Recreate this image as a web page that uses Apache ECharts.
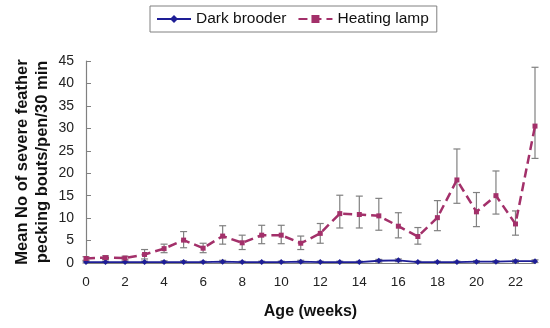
<!DOCTYPE html>
<html><head><meta charset="utf-8">
<script src="https://cdn.jsdelivr.net/npm/echarts@6/dist/echarts.min.js"></script>
<style>html,body{margin:0;padding:0;background:#fff}#c{width:550px;height:328px}</style>
</head><body><div id="c"></div>
<script>
const weeks = [0,1,2,3,4,5,6,7,8,9,10,11,12,13,14,15,16,17,18,19,20,21,22,23];
const heatingLamp = [1.0,1.2,1.1,1.9,3.2,5.1,3.3,6.0,4.5,6.2,6.2,4.4,6.6,11.0,10.8,10.5,8.2,5.9,10.1,18.5,11.4,15.0,8.7,30.5];
const heatingLampHigh = [1.4,1.6,1.5,3.0,4.2,7.0,4.4,8.3,6.2,8.4,8.4,6.0,8.8,15.1,14.9,14.4,11.2,7.9,13.9,25.4,15.7,20.5,11.6,43.6];
const heatingLampLow = [0.6,0.8,0.7,0.9,2.3,3.4,2.3,4.2,3.0,4.3,4.3,3.0,4.4,7.8,7.8,7.3,5.6,4.2,7.2,13.3,8.1,10.9,6.2,23.3];
const darkBrooder = [0.2,0.2,0.2,0.2,0.2,0.2,0.2,0.3,0.2,0.2,0.2,0.3,0.2,0.2,0.2,0.5,0.6,0.2,0.2,0.2,0.3,0.3,0.4,0.4];
const darkBrooderHigh = [0.4,0.4,0.4,0.4,0.5,0.5,0.4,0.6,0.4,0.4,0.4,0.6,0.4,0.4,0.4,0.8,0.9,0.4,0.4,0.4,0.5,0.5,0.7,0.7];
const darkBrooderLow = [0.0,0.0,0.0,0.0,0.0,0.0,0.0,0.0,0.0,0.0,0.0,0.0,0.0,0.0,0.0,0.2,0.3,0.0,0.0,0.0,0.1,0.1,0.1,0.1];
const xTickLabels = ['0','2','4','6','8','10','12','14','16','18','20','22'];
const seriesNames = ['Dark brooder','Heating lamp'];

const blue = '#1E1E96';
const red = '#A3306A';
const gray = '#808080';

function errData(hi, lo){ return weeks.map((w,i)=>[w, lo[i], hi[i]]); }
function errRender(params, api){
  const x = api.value(0);
  const p1 = api.coord([x, api.value(2)]);
  const p2 = api.coord([x, api.value(1)]);
  const w = 3.5;
  const st = {stroke: gray, lineWidth: 1.2};
  return {type:'group', children:[
    {type:'line', shape:{x1:p1[0],y1:p1[1],x2:p2[0],y2:p2[1]}, style:st},
    {type:'line', shape:{x1:p1[0]-w,y1:p1[1],x2:p1[0]+w,y2:p1[1]}, style:st},
    {type:'line', shape:{x1:p2[0]-w,y1:p2[1],x2:p2[0]+w,y2:p2[1]}, style:st}
  ]};
}

const chart = echarts.init(document.getElementById('c'), null, {renderer:'canvas'});
chart.setOption({
  animation:false,
  textStyle:{fontFamily:'Liberation Sans, Arial, sans-serif'},
  grid:{left:86, right:15, top:61, bottom:65, containLabel:false, outerBoundsMode:'none'},
  legend:{
    data:seriesNames, left:150, top:6,
    borderColor:gray, borderWidth:1, padding:[5,8,5,6],
    itemWidth:34, itemHeight:10, itemGap:11,
    textStyle:{fontSize:15.5, color:'#111'}
  },
  xAxis:{
    type:'value', min:0, max:23, interval:1,
    name:'Age (weeks)', nameLocation:'middle', nameGap:41, nameMoveOverlap:false,
    nameTextStyle:{fontSize:16, fontWeight:'bold', color:'#111'},
    axisLine:{show:true, lineStyle:{color:gray}},
    axisTick:{show:false}, splitLine:{show:false},
    axisLabel:{fontSize:13.5, color:'#222', margin:12,
      formatter:v=> xTickLabels.includes(String(v)) ? String(v) : ''}
  },
  yAxis:{
    type:'value', min:0, max:45, interval:5,
    name:'Mean No of severe feather\npecking bouts/pen/30 min',
    nameLocation:'middle', nameRotate:90, nameGap:34, nameMoveOverlap:false,
    nameTextStyle:{fontSize:16.5, fontWeight:'bold', color:'#111', lineHeight:20},
    axisLine:{show:true, lineStyle:{color:gray, width:1.2}},
    axisTick:{show:true, inside:true, length:5, lineStyle:{color:gray}},
    splitLine:{show:false},
    axisLabel:{fontSize:14, color:'#222', margin:12}
  },
  series:[
    {name:'Dark brooder', type:'line', data:weeks.map((w,i)=>[w,darkBrooder[i]]),
      symbol:'diamond', symbolSize:6, itemStyle:{color:blue},
      lineStyle:{color:blue, width:1.8}, z:3},
    {name:'Heating lamp', type:'line', data:weeks.map((w,i)=>[w,heatingLamp[i]]),
      symbol:'rect', symbolSize:5, itemStyle:{color:red},
      lineStyle:{color:red, width:2.5, type:[9,5]}, z:3},
    {type:'custom', renderItem:errRender, data:errData(darkBrooderHigh,darkBrooderLow), z:2, silent:true},
    {type:'custom', renderItem:errRender, data:errData(heatingLampHigh,heatingLampLow), z:2, silent:true}
  ]
});
</script></body></html>
